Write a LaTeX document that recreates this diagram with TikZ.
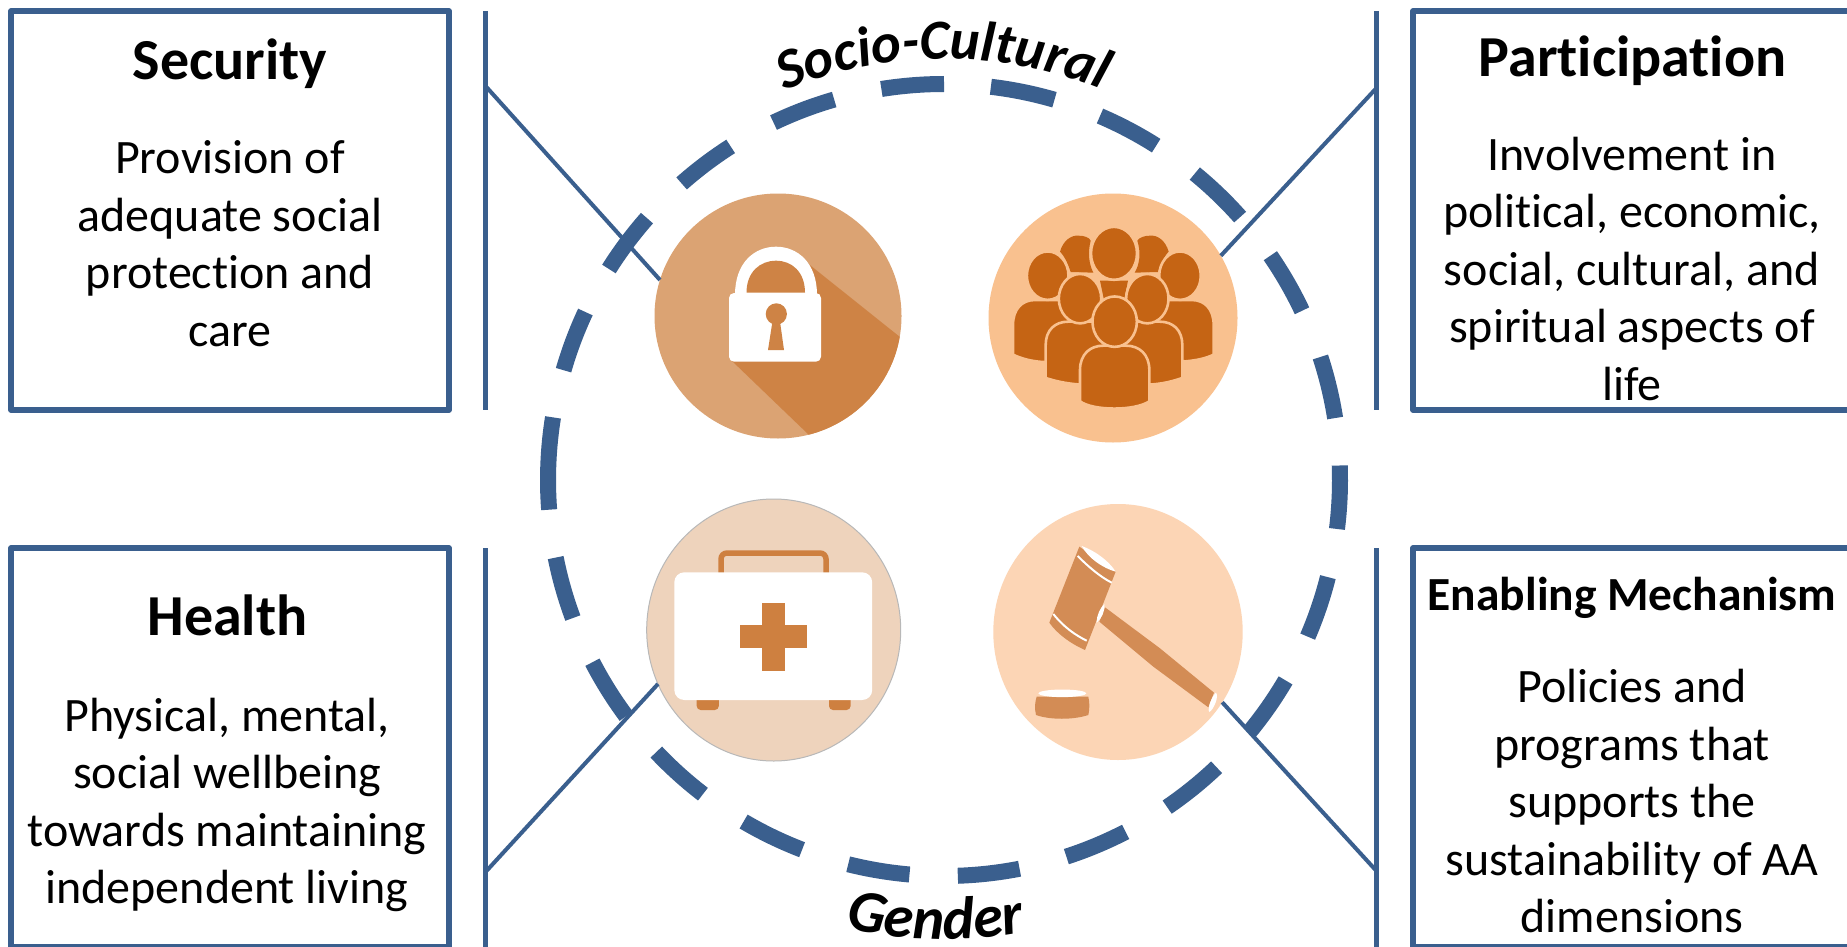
\documentclass[tikz,border=0pt]{standalone}
\usepackage{fontspec}
\setmainfont{Carlito}[Ligatures=NoCommon]
\usetikzlibrary{shapes.geometric,decorations.text}
\definecolor{blueline}{HTML}{3A5F8E}
\definecolor{lockA}{HTML}{DBA373}
\definecolor{lockB}{HTML}{CE8345}
\definecolor{crowdA}{HTML}{F9C18F}
\definecolor{crowdB}{HTML}{C56414}
\definecolor{kitA}{HTML}{EED3BC}
\definecolor{kitB}{HTML}{CE8040}
\definecolor{gavelA}{HTML}{FCD5B5}
\definecolor{gavelB}{HTML}{D38C55}
\tikzset{
  boxframe/.style={draw=blueline,line width=5.4pt,line join=round,fill=white,inner sep=0pt,outer sep=0pt,anchor=north west},
  rail/.style={draw=blueline,line width=5pt},
  link/.style={draw=blueline,line width=4pt},
  ringdash/.style={draw=blueline,line width=16pt},
  headtext/.style={font=\fontsize{58}{62}\selectfont\bfseries,anchor=base,inner sep=0pt},
  bodytext/.style={font=\fontsize{48}{57.5}\selectfont,align=center,anchor=base,inner sep=0pt},
  disc/.style={ellipse,inner sep=0pt,outer sep=0pt},
  person/.style={fill=crowdB,draw=crowdA,line width=2.6pt}
}
\begin{document}
\begin{tikzpicture}[x=1pt,y=-1pt]
\useasboundingbox (0,0) rectangle (1847,947);
\fill[white] (0,0) rectangle (1847,947);
\clip (0,0) rectangle (1847,947);
% boxes
\node[boxframe,minimum width=438pt,minimum height=399pt] (secbox) at (11,11) {};
\node[boxframe,minimum width=450pt,minimum height=399pt] (parbox) at (1413,11) {};
\node[boxframe,minimum width=438pt,minimum height=399pt] (heabox) at (11,548) {};
\node[boxframe,minimum width=450pt,minimum height=399pt] (enabox) at (1413,548) {};
% box texts
\node[headtext] (sectitle) at (230,79.5) {Security};
\node[bodytext] (secbody) at (230,346) {Provision of\\adequate social\\protection and\\care};
\node[headtext] (partitle) at (1632.5,76.5) {Participation};
\node[bodytext] (parbody) at (1632,400) {Involvement in\\political, economic,\\social, cultural, and\\spiritual aspects of\\life};
\node[headtext] (heatitle) at (227.5,635.5) {Health};
\node[bodytext] (heabody) at (227,903.5) {Physical, mental,\\social wellbeing\\towards maintaining\\independent living};
\node[headtext,font=\fontsize{47.5}{52}\selectfont\bfseries] (enatitle) at (1632,610) {Enabling Mechanism};
\node[bodytext] (enabody) at (1632,932.5) {Policies and\\programs that\\supports the\\sustainability of AA\\dimensions};
% rails
\coordinate (r1a) at (485.5,11); \coordinate (r1b) at (485.5,410);
\coordinate (r2a) at (1376.5,11); \coordinate (r2b) at (1376.5,410);
\coordinate (r3a) at (485.5,548); \coordinate (r3b) at (485.5,947);
\coordinate (r4a) at (1376.5,548); \coordinate (r4b) at (1376.5,947);
\draw[rail] (r1a) -- (r1b);
\draw[rail] (r2a) -- (r2b);
\draw[rail] (r3a) -- (r3b);
\draw[rail] (r4a) -- (r4b);
% discs
\node[disc,fill=lockA,minimum width=247pt,minimum height=245pt] (lock) at (778,316) {};
\node[disc,fill=crowdA,minimum width=249pt,minimum height=249pt] (crowd) at (1113,318) {};
\node[disc,fill=kitA,draw=black!28,line width=1pt,minimum width=254pt,minimum height=262pt] (kit) at (773.7,630) {};
\node[disc,fill=gavelA,minimum width=249.4pt,minimum height=256pt] (gavel) at (1118,632) {};
% links
\coordinate (j1) at (485.5,86);
\coordinate (j2) at (1376.5,88);
\coordinate (j3) at (485.5,872);
\coordinate (j4) at (1376.5,871);
\draw[link] (j1) -- (lock.163);
\draw[link] (j2) -- (crowd.30);
\draw[link] (j3) -- (kit.205);
\draw[link] (j4) -- (gavel.-34);
% dashed ring and curved labels
\begin{scope}[shift={(944,480)},y=1pt]
\foreach \a/\b in {99.1/90,83.2/73.8,66.8/57.6,50.7/41.6,34.5/25.3,18.1/9,2.1/-7.1,-14.2/-23.3,-30.4/-39.5,-46.5/-55.7,-62.7/-72,-79/-88,-95/-104,-111/-120.4,-127.5/-136.6,-143.4/-152.6,-159.6/-168.7,-175.7/-189.1,-196.1/-205.1,-212.2/-221.4,-228.5/-237.4,-244.5/-253.9}
  \draw[ringdash] (\a:396pt) arc[start angle=\a,end angle=\b,radius=396pt];
\path[decorate,decoration={text along path,text align=center,text={|\fontsize{56.5}{60}\selectfont\bfseries\itshape|Socio-Cultural}}]
  (124.6:421pt) arc[start angle=124.6,end angle=55.6,radius=421pt];
\path[decorate,decoration={text along path,text align=center,text={|\fontsize{60}{62}\selectfont\bfseries\itshape|Gender}}]
  (-106.6:459pt) arc[start angle=-106.6,end angle=-75.6,radius=459pt];
\end{scope}
% lock icon
\begin{scope}
\clip (778,316) ellipse [x radius=123.5pt,y radius=122.5pt];
\fill[lockB] (732,361) -- (860,484) -- (960,420) -- (950,377) -- (805.7,261.7) -- cycle;
\end{scope}
\fill[white] (735,295) .. controls (735,262) and (755,246.7) .. (776,246.7) .. controls (797,246.7) and (817,262) .. (817,295) -- cycle;
\fill[white,rounded corners=5pt] (729,293) rectangle (821,361.7);
\fill[lockB] (746.5,292.7) .. controls (746.5,272) and (760,260.7) .. (776,260.7) .. controls (792,260.7) and (805,272) .. (805,292.7) -- cycle;
\fill[lockB] (776.3,314) ellipse [x radius=10.6pt,y radius=10.7pt];
\fill[lockB] (773,318) -- (779.5,318) -- (784,350) -- (768,350) -- cycle;
% crowd icon
\begin{scope}[shift={(980,190)},x=.33333pt,y=-.33333pt]
\fill[crowdB] (240,185) .. controls (250,150) and (275,135) .. (295,137) .. controls (312,137) and (328,142) .. (332,152) .. controls (322,190) and (328,225) .. (340,248) -- (272,246) .. controls (265,225) and (255,200) .. (240,185) -- cycle;
\fill[crowdB] (566,185) .. controls (556,150) and (531,135) .. (511,137) .. controls (494,137) and (478,142) .. (472,152) .. controls (484,190) and (478,225) .. (464,248) -- (534,246) .. controls (541,225) and (551,200) .. (566,185) -- cycle;
\fill[crowdB] (360,272) -- (444,272) -- (432,330) -- (372,330) -- cycle;
\path[person] (99,494) -- (99,405) .. controls (99,358) and (125,330) .. (165,330) -- (240,330) -- (300,450) -- (300,510) -- (187,516) .. controls (150,513) and (125,506) .. (99,494) -- cycle;
\path[person] (701,494) -- (701,405) .. controls (701,358) and (675,330) .. (635,330) -- (560,330) -- (500,450) -- (500,510) -- (617,514) .. controls (650,511) and (675,506) .. (701,494) -- cycle;
\path[person] (402,190) ellipse [x radius=23pt,y radius=26.5pt];
\path[person] (203,257) ellipse [x radius=20.8pt,y radius=24.2pt];
\path[person] (600,257) ellipse [x radius=20.8pt,y radius=24.2pt];
\path[person] (197,564) -- (197,465) .. controls (197,420) and (225,395) .. (265,395) -- (350,395) -- (400,480) -- (400,583) -- (292,583) .. controls (255,580) and (225,573) .. (197,564) -- cycle;
\path[person] (607,564) -- (607,465) .. controls (607,420) and (579,395) .. (539,395) -- (454,395) -- (404,480) -- (404,583) -- (520,583) .. controls (555,580) and (580,573) .. (607,564) -- cycle;
\path[person] (300,326) ellipse [x radius=21.2pt,y radius=24.7pt];
\path[person] (502,326) ellipse [x radius=21.2pt,y radius=24.7pt];
\path[person] (300,634) -- (300,540) .. controls (300,493) and (330,467) .. (370,467) -- (438,467) .. controls (478,467) and (508,493) .. (508,540) -- (508,634) .. controls (465,663) and (340,663) .. (300,634) -- cycle;
\path[person] (404,395) ellipse [x radius=22.2pt,y radius=25.2pt];
\end{scope}
% kit icon
\draw[kitB,line width=5.5pt,rounded corners=6pt] (721,580) -- (721,553) -- (826,553) -- (826,580);
\fill[kitB,rounded corners=4pt] (696.7,695) rectangle (718.8,710);
\fill[kitB,rounded corners=4pt] (829,695) rectangle (850.6,710);
\fill[white,rounded corners=10pt] (674.3,572.3) rectangle (872.2,700);
\fill[kitB] (762,602.7) rectangle (785,670.7);
\fill[kitB] (740,625) rectangle (807,647.7);
% gavel icon
\begin{scope}[shift={(990,500)},x=.33333pt,y=-.33333pt]
\fill[gavelB] (268,140) -- (377,215) -- (285,450) .. controls (240,430) and (200,400) .. (178,368) -- cycle;
\fill[white] (275,138) .. controls (310,150) and (355,180) .. (377,215) .. controls (340,205) and (295,175) .. (275,138) -- cycle;
\draw[white,line width=2pt] (263,168) .. controls (295,200) and (330,230) .. (365,248);
\draw[white,line width=2pt] (190,342) .. controls (220,380) and (255,405) .. (290,422);
\fill[gavelB] (345,322) -- (510,445) -- (672,578) -- (655,622) -- (490,500) -- (328,365) -- cycle;
\fill[white] (343,312) .. controls (345,335) and (335,355) .. (320,368) .. controls (320,345) and (330,325) .. (343,312) -- cycle;
\fill[white] (678,578) .. controls (688,590) and (670,630) .. (658,636) .. controls (650,625) and (668,585) .. (678,578) -- cycle;
\fill[gavelB] (140,590) -- (295,590) .. controls (300,610) and (298,630) .. (295,645) .. controls (250,660) and (180,660) .. (138,645) .. controls (133,625) and (135,605) .. (140,590) -- cycle;
\fill[white] (217,580) ellipse [x radius=24pt,y radius=3.8pt];
\end{scope}
\end{tikzpicture}
\end{document}
